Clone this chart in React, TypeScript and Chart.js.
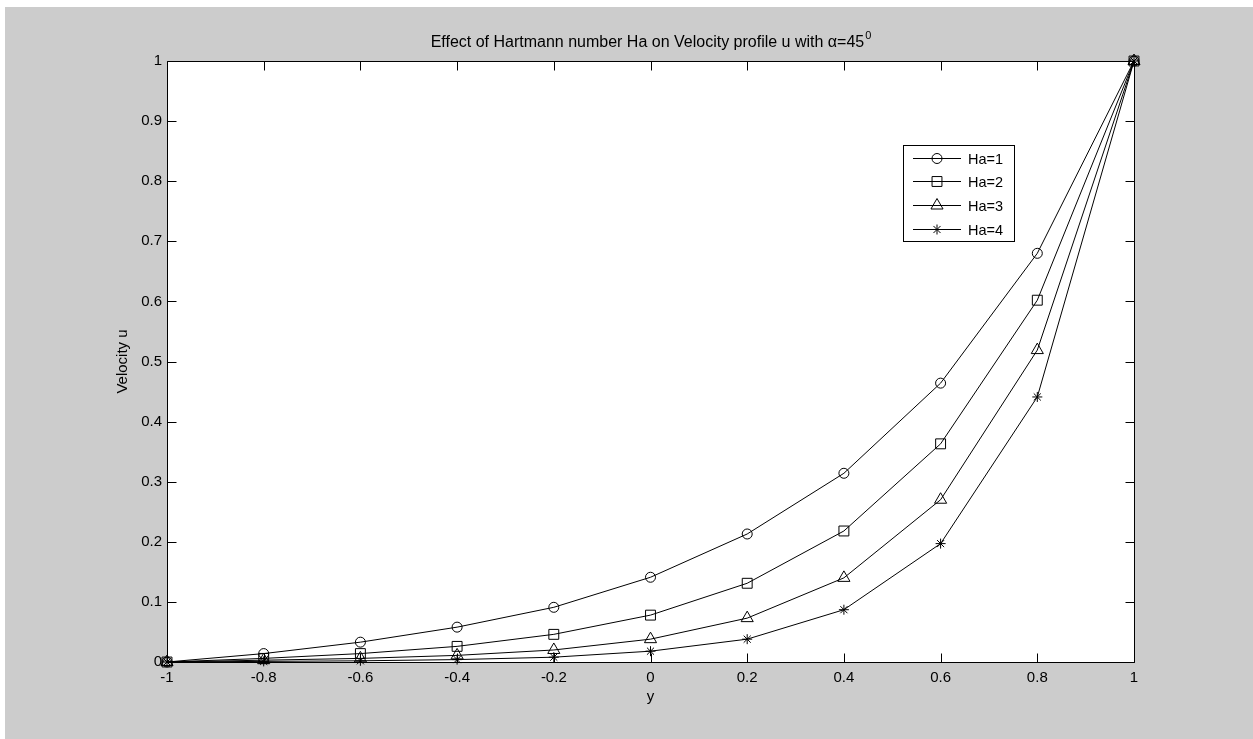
import React, { useEffect, useRef } from 'react';
import { Chart, registerables } from 'chart.js';

Chart.register(...registerables);

// ---- data ----
const yPositions = [-1, -0.8, -0.6, -0.4, -0.2, 0, 0.2, 0.4, 0.6, 0.8, 1];
const ha1 = [0, 0.014, 0.033, 0.058, 0.091, 0.141, 0.213, 0.314, 0.464, 0.68, 1];
const ha2 = [0, 0.006, 0.014, 0.026, 0.046, 0.078, 0.131, 0.218, 0.363, 0.602, 1];
const ha3 = [0, 0.003, 0.006, 0.011, 0.02, 0.038, 0.073, 0.14, 0.27, 0.519, 1];
const ha4 = [0, 0.001, 0.002, 0.004, 0.008, 0.018, 0.038, 0.087, 0.197, 0.441, 1];
const seriesLabels = ['Ha=1', 'Ha=2', 'Ha=3', 'Ha=4'];
const xTickValues = [-1, -0.8, -0.6, -0.4, -0.2, 0, 0.2, 0.4, 0.6, 0.8, 1];
const yTickValues = [0, 0.1, 0.2, 0.3, 0.4, 0.5, 0.6, 0.7, 0.8, 0.9, 1];
const titleText = 'Effect of Hartmann number Ha on Velocity profile u with \u03b1=45';
const titleSup = '0';
const xLabel = 'y';
const yLabel = 'Velocity u';

// ---- styles ----
const markerStyles = ['circle', 'rect', 'triangle', 'star'];
const markerRadii = [5, 7, 7, 5];
const FONT = '"Liberation Sans", Arial, Helvetica, sans-serif';
const FONT_SIZE = 15;
const TITLE_SIZE = 16;
const LEGEND_SIZE = 14.5;
const GRAY = '#cccccc';

function fmt(v: number) {
  const r = Math.round(v * 10) / 10;
  return String(r === 0 ? 0 : r);
}

function drawMarker(ctx: CanvasRenderingContext2D, style: string, r: number, x: number, y: number) {
  ctx.beginPath();
  let rad = 0;
  if (style === 'circle') {
    ctx.arc(x, y, r, 0, Math.PI * 2);
    ctx.closePath();
  } else if (style === 'rect') {
    const s = Math.SQRT1_2 * r;
    ctx.rect(x - s, y - s, 2 * s, 2 * s);
  } else if (style === 'triangle') {
    const T = (2 * Math.PI) / 3;
    ctx.moveTo(x + Math.sin(rad) * r, y - Math.cos(rad) * r);
    rad += T;
    ctx.lineTo(x + Math.sin(rad) * r, y - Math.cos(rad) * r);
    rad += T;
    ctx.lineTo(x + Math.sin(rad) * r, y - Math.cos(rad) * r);
    ctx.closePath();
  } else if (style === 'star') {
    for (let k = 0; k < 2; k++) {
      const a = rad + (k * Math.PI) / 4;
      const xo = Math.cos(a) * r;
      const yo = Math.sin(a) * r;
      ctx.moveTo(x - xo, y - yo);
      ctx.lineTo(x + xo, y + yo);
      ctx.moveTo(x + yo, y - xo);
      ctx.lineTo(x - yo, y + xo);
    }
  }
  ctx.stroke();
}

const backgroundPlugin = {
  id: 'matlabBackground',
  beforeDraw(chart: any) {
    const { ctx, width, height, chartArea } = chart;
    ctx.save();
    ctx.fillStyle = '#ffffff';
    ctx.fillRect(0, 0, width, height);
    ctx.fillStyle = GRAY;
    ctx.fillRect(5, 7, width - 5, height - 7);
    ctx.fillStyle = '#ffffff';
    ctx.fillRect(chartArea.left, chartArea.top, chartArea.right - chartArea.left, chartArea.bottom - chartArea.top);
    ctx.restore();
  },
};

const framePlugin = {
  id: 'matlabFrame',
  afterDraw(chart: any) {
    const { ctx, chartArea } = chart;
    const xs = chart.scales.x;
    const ys = chart.scales.y;
    const L = Math.round(chartArea.left) + 0.5;
    const R = Math.round(chartArea.right) + 0.5;
    const T = Math.round(chartArea.top) + 0.5;
    const B = Math.round(chartArea.bottom) + 0.5;
    const tl = 9;
    ctx.save();
    ctx.strokeStyle = '#000';
    ctx.lineWidth = 1;
    ctx.beginPath();
    ctx.rect(L, T, R - L, B - T);
    ctx.stroke();
    ctx.beginPath();
    xTickValues.forEach((v) => {
      const px = Math.round(xs.getPixelForValue(v)) + 0.5;
      ctx.moveTo(px, B);
      ctx.lineTo(px, B - tl);
      ctx.moveTo(px, T);
      ctx.lineTo(px, T + tl);
    });
    yTickValues.forEach((v) => {
      const py = Math.round(ys.getPixelForValue(v)) + 0.5;
      ctx.moveTo(L, py);
      ctx.lineTo(L + tl, py);
      ctx.moveTo(R, py);
      ctx.lineTo(R - tl, py);
    });
    ctx.stroke();

    // titles
    ctx.fillStyle = '#000';
    ctx.textBaseline = 'middle';
    const cx = (chartArea.left + chartArea.right) / 2;
    ctx.font = `${TITLE_SIZE}px ${FONT}`;
    const mainW = ctx.measureText(titleText).width;
    ctx.font = `11px ${FONT}`;
    const supW = ctx.measureText(titleSup).width;
    const startX = cx - (mainW + supW) / 2;
    ctx.font = `${TITLE_SIZE}px ${FONT}`;
    ctx.textAlign = 'left';
    ctx.fillText(titleText, startX, 43);
    ctx.font = `11px ${FONT}`;
    ctx.fillText(titleSup, startX + mainW + 1, 36);

    ctx.font = `${FONT_SIZE}px ${FONT}`;
    ctx.textAlign = 'center';
    ctx.fillText(xLabel, cx, 697);
    ctx.save();
    ctx.translate(123, (chartArea.top + chartArea.bottom) / 2);
    ctx.rotate(-Math.PI / 2);
    ctx.fillText(yLabel, 0, 0);
    ctx.restore();

    // legend
    const lx = chartArea.left + 736;
    const ly = chartArea.top + 84;
    const lw = 111;
    const lh = 96;
    ctx.fillStyle = '#fff';
    ctx.fillRect(lx, ly, lw, lh);
    ctx.strokeStyle = '#000';
    ctx.strokeRect(Math.round(lx) + 0.5, Math.round(ly) + 0.5, lw, lh);
    ctx.fillStyle = '#000';
    ctx.textAlign = 'left';
    ctx.font = `${LEGEND_SIZE}px ${FONT}`;
    chart.data.datasets.forEach((ds: any, i: number) => {
      const ry = Math.round(ly + 12.5 + i * 23.7) + 0.5;
      ctx.beginPath();
      ctx.moveTo(lx + 10, ry);
      ctx.lineTo(lx + 58, ry);
      ctx.stroke();
      drawMarker(ctx, ds.pointStyle, ds.pointRadius, lx + 34, ry);
      ctx.fillText(ds.label, lx + 65, ry + 1);
    });
    ctx.restore();
  },
};

const seriesData = [ha1, ha2, ha3, ha4];

export default function App() {
  const ref = useRef<HTMLCanvasElement>(null);
  useEffect(() => {
    const canvas = ref.current;
    if (!canvas) return;
    Chart.defaults.color = '#000';
    const chart = new Chart(canvas, {
      type: 'line',
      data: {
        datasets: seriesData.map((d, i) => ({
          label: seriesLabels[i],
          data: yPositions.map((x, j) => ({ x, y: d[j] })),
          borderColor: '#000',
          borderWidth: 1,
          pointStyle: markerStyles[i] as any,
          pointRadius: markerRadii[i],
          pointBorderColor: '#000',
          pointBackgroundColor: 'rgba(0,0,0,0)',
          pointBorderWidth: 1,
          tension: 0,
          fill: false,
          clip: false as any,
        })),
      },
      options: {
        animation: false,
        responsive: false,
        devicePixelRatio: 1,
        layout: { padding: { left: 0, top: 61, right: 119, bottom: 0 } },
        plugins: {
          legend: { display: false },
          title: { display: false },
          tooltip: { enabled: false },
        },
        scales: {
          x: {
            type: 'linear',
            min: -1,
            max: 1,
            afterBuildTicks: (s: any) => {
              s.ticks = xTickValues.map((v) => ({ value: v }));
            },
            afterFit: (s: any) => {
              s.height = 77;
            },
            grid: { display: false, drawTicks: false },
            border: { display: false },
            ticks: {
              color: '#000',
              padding: 7,
              maxRotation: 0,
              autoSkip: false,
              font: { family: FONT, size: FONT_SIZE },
              callback: (v: any) => fmt(Number(v)),
            },
          },
          y: {
            type: 'linear',
            min: 0,
            max: 1,
            afterBuildTicks: (s: any) => {
              s.ticks = yTickValues.map((v) => ({ value: v }));
            },
            afterFit: (s: any) => {
              s.width = 167;
            },
            grid: { display: false, drawTicks: false },
            border: { display: false },
            ticks: {
              color: '#000',
              padding: 5,
              autoSkip: false,
              font: { family: FONT, size: FONT_SIZE },
              callback: (v: any) => fmt(Number(v)),
            },
          },
        },
      },
      plugins: [backgroundPlugin, framePlugin],
    } as any);
    return () => chart.destroy();
  }, []);
  return (
    <div style={{ position: 'fixed', left: 0, top: 0, width: 1253, height: 739 }}>
      <canvas ref={ref} width={1253} height={739} style={{ display: 'block', width: 1253, height: 739 }} />
    </div>
  );
}
